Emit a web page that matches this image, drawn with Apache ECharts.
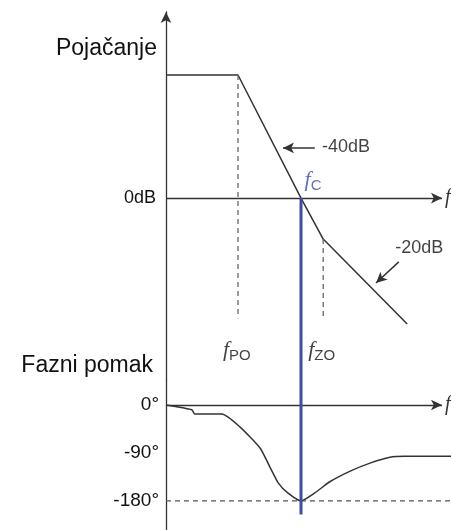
<!DOCTYPE html>
<html>
<head>
<meta charset="utf-8">
<script src="https://cdn.jsdelivr.net/npm/echarts@6/dist/echarts.min.js"></script>
<style>
  html, body { margin: 0; padding: 0; background: #fff; }
  #chart { width: 451px; height: 530px; }
</style>
</head>
<body>
<div id="chart"></div>
<script>
// frekvencija u dekadama (log f), od osi
var gainFreq = [0, 1.2, 2.25, 2.62, 4.02];
var gainDb = [42, 42, 0, -14, -43];

var phaseFreq = [0, 0.43, 0.48, 0.93, 1.23, 1.57, 1.73, 1.87, 2.03, 2.25, 2.48, 2.73, 3.07, 3.4, 3.73, 3.98, 4.75];
var phaseDeg = [0, -9, -17, -17, -41, -81, -116, -146, -165, -180, -165, -144, -124, -109, -98, -96, -96];

var fPO = 1.2, fC = 2.25, fZO = 2.62;
var gainTicks = [0];
var phaseTicks = [0, -90, -180];

var chart = echarts.init(document.getElementById('chart'));

function zip(xs, ys) {
  return xs.map(function (x, i) { return [x, ys[i]]; });
}

var txt = '#111';
var axisColor = '#333';
var blue = '#3b4ea6';

var fRich = {
  f: { fontFamily: 'Liberation Serif', fontStyle: 'italic', fontSize: 22, color: txt, lineHeight: 26 },
  s: { fontFamily: 'Liberation Sans', fontSize: 15, color: txt, verticalAlign: 'bottom', lineHeight: 18 },
  fb: { fontFamily: 'Liberation Serif', fontStyle: 'italic', fontSize: 22, color: blue, lineHeight: 26 },
  sb: { fontFamily: 'Liberation Sans', fontSize: 15, color: blue, verticalAlign: 'bottom', lineHeight: 18 },
  t: { fontFamily: 'Liberation Sans', fontSize: 18, color: txt }
};

function textPoint(x, y, fmt) {
  return {
    value: [x, y],
    label: { show: true, position: 'right', distance: 0, formatter: fmt, rich: fRich }
  };
}

// os f sa strelicom (vrh na 4.6)
var fAxisLine = {
  silent: true, symbol: ['none', 'arrow'], symbolSize: [8, 11],
  lineStyle: { color: axisColor, width: 1.3, type: 'solid' },
  label: {
    show: true, position: 'end', distance: 3, formatter: 'f',
    fontFamily: 'Liberation Serif', fontStyle: 'italic', fontSize: 20, color: '#333'
  },
  data: [[{ coord: [0, 0] }, { coord: [4.6, 0] }]]
};

var option = {
  animation: false,
  title: [
    { text: 'Pojačanje', right: 294, top: 37, padding: 0,
      textStyle: { fontFamily: 'Liberation Sans', fontSize: 23, fontWeight: 'normal', color: txt } },
    { text: 'Fazni pomak', right: 298, top: 354, padding: 0,
      textStyle: { fontFamily: 'Liberation Sans', fontSize: 23, fontWeight: 'normal', color: txt } }
  ],
  grid: [
    { left: 166, top: 12, width: 285, height: 368 },
    { left: 166, top: 380, width: 285, height: 150 }
  ],
  xAxis: [0, 1].map(function (i) {
    return {
      type: 'value', gridIndex: i, min: 0, max: 4.75,
      axisLine: { show: false },
      axisTick: { show: false }, axisLabel: { show: false }, splitLine: { show: false }
    };
  }),
  yAxis: [
    {
      type: 'value', gridIndex: 0, min: -62.1, max: 63.5,
      axisLine: { onZero: false, symbol: ['none', 'arrow'], symbolSize: [8, 11], lineStyle: { color: axisColor, width: 1.3 } },
      axisTick: { show: false }, splitLine: { show: false },
      axisLabel: {
        customValues: gainTicks, margin: 10, padding: [0, 0, 9, 0],
        fontFamily: 'Liberation Sans', fontSize: 18, color: txt,
        formatter: function (v) { return v + 'dB'; }
      }
    },
    {
      type: 'value', gridIndex: 1, min: -234.5, max: 46.9,
      axisLine: { onZero: false, lineStyle: { color: axisColor, width: 1.3 } },
      axisTick: { show: false }, splitLine: { show: false },
      axisLabel: {
        customValues: phaseTicks, margin: 7, padding: [0, 0, 6, 0],
        fontFamily: 'Liberation Sans', fontSize: 19, color: txt,
        formatter: function (v) { return v + '°'; }
      }
    }
  ],
  series: [
    {
      name: 'pojacanje', type: 'line', xAxisIndex: 0, yAxisIndex: 0,
      data: zip(gainFreq, gainDb), symbol: 'none',
      lineStyle: { color: '#333', width: 1.5 },
      markLine: fAxisLine
    },
    {
      name: 'strelice', type: 'line', xAxisIndex: 0, yAxisIndex: 0, data: [],
      markLine: {
        silent: true, symbol: ['none', 'arrow'], symbolSize: [8, 11],
        label: { show: false },
        lineStyle: { color: '#333', width: 1.5, type: 'solid' },
        data: [
          [{ coord: [2.48, 17.1] }, { coord: [1.95, 17.1] }],
          [{ coord: [3.88, -21.8] }, { coord: [3.5, -29] }]
        ]
      }
    },
    {
      name: 'fPO', type: 'line', xAxisIndex: 0, yAxisIndex: 0,
      data: [[fPO, 42], [fPO, -41]], symbol: 'none',
      lineStyle: { color: '#666', width: 1.3, type: [5, 4] }
    },
    {
      name: 'fZO', type: 'line', xAxisIndex: 0, yAxisIndex: 0,
      data: [[fZO, -14], [fZO, -41]], symbol: 'none',
      lineStyle: { color: '#666', width: 1.3, type: [5, 4] }
    },
    {
      name: 'fC', type: 'line', xAxisIndex: 0, yAxisIndex: 0,
      data: [[fC, 0], [fC, -108]], symbol: 'none', z: 5, clip: false,
      lineStyle: { color: blue, width: 3 }
    },
    {
      name: 'natpisi gore', type: 'scatter', xAxisIndex: 0, yAxisIndex: 0,
      symbolSize: 0, silent: true,
      data: [
        textPoint(0.95, -52, '{f|f}{s|PO}'),
        textPoint(2.37, -52, '{f|f}{s|ZO}'),
        textPoint(2.31, 6, '{fb|f}{sb|C}'),
        textPoint(2.6, 17.5, '{t|-40dB}'),
        textPoint(3.82, -17, '{t|-20dB}')
      ]
    },
    {
      name: 'faza', type: 'line', xAxisIndex: 1, yAxisIndex: 1,
      data: zip(phaseFreq, phaseDeg), symbol: 'none', smooth: 0.2,
      lineStyle: { color: '#333', width: 1.5 },
      markLine: fAxisLine
    },
    {
      name: '-180', type: 'line', xAxisIndex: 1, yAxisIndex: 1,
      data: [[0, -180], [4.75, -180]], symbol: 'none',
      lineStyle: { color: '#555', width: 1.3, type: [5, 4] }
    }
  ]
};

chart.setOption(option);
</script>
</body>
</html>
